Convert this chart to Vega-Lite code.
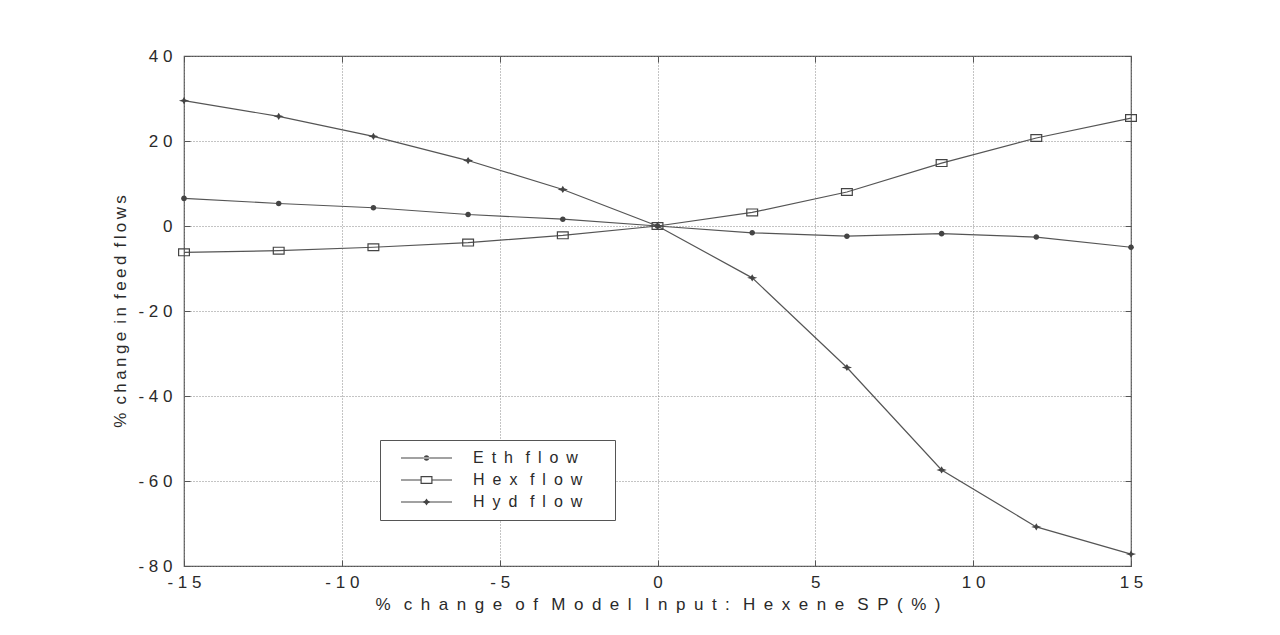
{
  "$schema": "https://vega.github.io/schema/vega-lite/v6.json",
  "width": 947,
  "height": 510,
  "autosize": {"type": "none"},
  "padding": {"left": 184, "top": 56, "right": 149, "bottom": 69},
  "background": "white",
  "data": {
    "values": [
      {"x": -15, "series": "Eth flow", "y": 6.5},
      {"x": -12, "series": "Eth flow", "y": 5.3},
      {"x": -9, "series": "Eth flow", "y": 4.3},
      {"x": -6, "series": "Eth flow", "y": 2.7},
      {"x": -3, "series": "Eth flow", "y": 1.6},
      {"x": 0, "series": "Eth flow", "y": 0},
      {"x": 3, "series": "Eth flow", "y": -1.6},
      {"x": 6, "series": "Eth flow", "y": -2.4},
      {"x": 9, "series": "Eth flow", "y": -1.8},
      {"x": 12, "series": "Eth flow", "y": -2.6},
      {"x": 15, "series": "Eth flow", "y": -5.0},
      {"x": -15, "series": "Hex flow", "y": -6.2},
      {"x": -12, "series": "Hex flow", "y": -5.8},
      {"x": -9, "series": "Hex flow", "y": -5.0},
      {"x": -6, "series": "Hex flow", "y": -3.9},
      {"x": -3, "series": "Hex flow", "y": -2.2},
      {"x": 0, "series": "Hex flow", "y": 0},
      {"x": 3, "series": "Hex flow", "y": 3.2},
      {"x": 6, "series": "Hex flow", "y": 8.0},
      {"x": 9, "series": "Hex flow", "y": 14.8},
      {"x": 12, "series": "Hex flow", "y": 20.7},
      {"x": 15, "series": "Hex flow", "y": 25.4},
      {"x": -15, "series": "Hyd flow", "y": 29.5},
      {"x": -12, "series": "Hyd flow", "y": 25.8},
      {"x": -9, "series": "Hyd flow", "y": 21.1},
      {"x": -6, "series": "Hyd flow", "y": 15.4},
      {"x": -3, "series": "Hyd flow", "y": 8.6},
      {"x": 0, "series": "Hyd flow", "y": 0},
      {"x": 3, "series": "Hyd flow", "y": -12.2},
      {"x": 6, "series": "Hyd flow", "y": -33.3},
      {"x": 9, "series": "Hyd flow", "y": -57.4},
      {"x": 12, "series": "Hyd flow", "y": -70.8},
      {"x": 15, "series": "Hyd flow", "y": -77.2}
    ]
  },
  "config": {
    "font": "Liberation Sans",
    "view": {"stroke": "#555", "strokeWidth": 1.2}
  },
  "resolve": {
    "scale": {"shape": "independent"},
    "axis": {"x": "independent", "y": "independent"}
  },
  "layer": [
    {
      "mark": {"type": "line", "color": "#555", "strokeWidth": 1.2},
      "encoding": {
        "x": {
          "field": "x", "type": "quantitative",
          "scale": {"domain": [-15, 15], "nice": false, "zero": false},
          "axis": {
            "orient": "bottom",
            "values": [-15, -10, -5, 0, 5, 10, 15],
            "domain": false,
            "grid": true, "gridColor": "#888", "gridDash": [1, 2], "gridWidth": 1,
            "tickSize": -6, "tickColor": "#555", "tickWidth": 1,
            "labelFlush": false, "labelOverlap": false,
            "labelFontSize": 17, "labelColor": "#2a2a2a", "labelPadding": 14,
            "labelExpr": "join(split('' + datum.value, ''), '\u2008')",
            "title": "%\u2002 c\u2002h\u2002a\u2002n\u2002g\u2002e\u2002 o\u2002f\u2002 M\u2002o\u2002d\u2002e\u2002l\u2002 I\u2002n\u2002p\u2002u\u2002t\u2002:\u2002 H\u2002e\u2002x\u2002e\u2002n\u2002e\u2002 S\u2002P\u2002(\u2002%\u2002)",
            "titleFontSize": 17, "titleFontWeight": "normal", "titleColor": "#2a2a2a", "titlePadding": 6
          }
        },
        "y": {
          "field": "y", "type": "quantitative",
          "scale": {"domain": [-80, 40], "nice": false},
          "axis": {
            "orient": "left",
            "values": [-80, -60, -40, -20, 0, 20, 40],
            "domain": false,
            "grid": true, "gridColor": "#888", "gridDash": [1, 2], "gridWidth": 1,
            "tickSize": -6, "tickColor": "#555", "tickWidth": 1,
            "labelFlush": false, "labelOverlap": false,
            "labelFontSize": 17, "labelColor": "#2a2a2a", "labelPadding": 18,
            "labelExpr": "join(split('' + datum.value, ''), '\u2008')",
            "title": "%\u2009 c\u2009h\u2009a\u2009n\u2009g\u2009e\u2009 i\u2009n\u2009 f\u2009e\u2009e\u2009d\u2009 f\u2009l\u2009o\u2009w\u2009s",
            "titleFontSize": 17, "titleFontWeight": "normal", "titleColor": "#2a2a2a", "titlePadding": 8
          }
        },
        "detail": {"field": "series"}
      }
    },
    {
      "mark": {"type": "point", "filled": true, "color": "#444", "size": 144, "strokeWidth": 0, "opacity": 1},
      "encoding": {
        "x": {
          "field": "x", "type": "quantitative",
          "axis": {
            "orient": "top", "values": [-15, -10, -5, 0, 5, 10, 15],
            "labels": false, "grid": false, "domain": false,
            "tickSize": -6, "tickColor": "#555", "title": null
          }
        },
        "y": {
          "field": "y", "type": "quantitative",
          "axis": {
            "orient": "right", "values": [-80, -60, -40, -20, 0, 20, 40],
            "labels": false, "grid": false, "domain": false,
            "tickSize": -6, "tickColor": "#555", "title": null
          }
        },
        "shape": {
          "field": "series", "type": "nominal",
          "scale": {
            "domain": ["Eth flow", "Hex flow", "Hyd flow"],
            "range": [
              "M-0.47,0A0.47,0.47,0,1,0,0.47,0A0.47,0.47,0,1,0,-0.47,0Z",
              "M-1,-0.67H1V0.67H-1ZM-0.8,-0.47V0.47H0.8V-0.47Z",
              "M-0.85,0L-0.25,-0.2L0,-0.6L0.25,-0.2L0.85,0L0.25,0.2L0,0.6L-0.25,0.2Z"
            ]
          },
          "legend": null
        }
      }
    },
    {
      "mark": {"type": "point", "filled": true, "color": "#444", "size": 2601, "opacity": 0},
      "encoding": {
        "x": {"field": "x", "type": "quantitative", "axis": null},
        "y": {"field": "y", "type": "quantitative", "axis": null},
        "shape": {
          "field": "series", "type": "nominal",
          "scale": {
            "domain": ["Eth flow", "Hex flow", "Hyd flow"],
            "range": [
              "M-1,-0.024H1V0.024H-1ZM-0.11,0A0.11,0.11,0,1,0,0.11,0A0.11,0.11,0,1,0,-0.11,0Z",
              "M-1,-0.024H-0.235V0.024H-1ZM0.235,-0.024H1V0.024H0.235ZM-0.235,-0.158H0.235V0.158H-0.235ZM-0.188,-0.11V0.11H0.188V-0.11Z",
              "M-1,-0.024H1V0.024H-1ZM-0.2,0L-0.06,-0.047L0,-0.141L0.06,-0.047L0.2,0L0.06,0.047L0,0.141L-0.06,0.047Z"
            ]
          },
          "legend": {
            "title": null,
            "orient": "none", "legendX": 196, "legendY": 384,
            "strokeColor": "#555", "fillColor": "white", "padding": 8,
            "symbolSize": 2601, "symbolOffset": 13, "labelOffset": 21,
            "clipHeight": 20, "rowPadding": 2,
            "symbolFillColor": "#444", "symbolStrokeWidth": 0, "symbolOpacity": 1,
            "labelFontSize": 16, "labelColor": "#2a2a2a",
            "labelExpr": "replace(join(split(datum.label, ''), '\u2002'), '\u2002 \u2002', ' \u2002') + '\u2002\u2002\u2002\u200b'"
          }
        }
      }
    }
  ]
}
